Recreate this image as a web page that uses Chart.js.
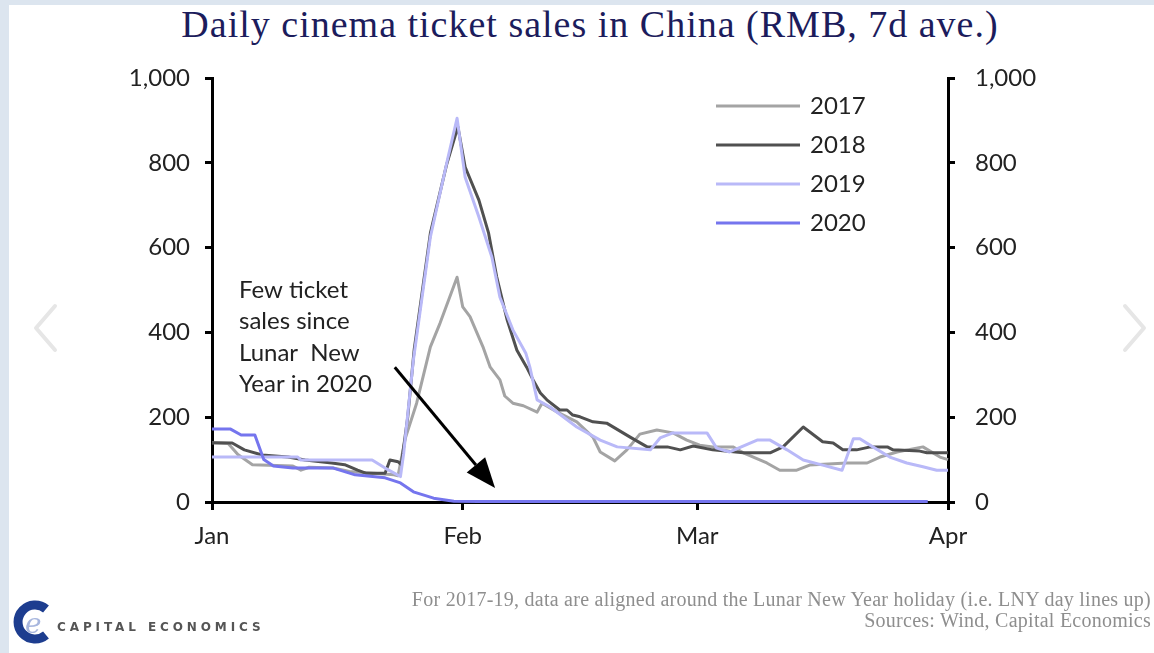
<!DOCTYPE html>
<html>
<head>
<meta charset="utf-8">
<script src="https://cdn.jsdelivr.net/npm/chart.js@4.4.1/dist/chart.umd.min.js"></script>
<style>
  html, body { margin: 0; padding: 0; background: #fff; }
  #page { position: relative; width: 1154px; height: 653px; overflow: hidden; background: #fff; }
  .strip { position: absolute; background: #dce5ef; }
  #title { position: absolute; top: 2px; left: 13px; width: 1154px; text-align: center;
           font: 38px "Liberation Serif", serif; letter-spacing: 1px; color: #1c1c5c; white-space: nowrap; }
  #notes { position: absolute; right: 3px; top: 589px; text-align: right;
           font: 20px "Liberation Serif", serif; letter-spacing: 0.25px; color: #8e8e8e; line-height: 21px; }
  #brand { position: absolute; left: 57px; top: 620px; font: bold 12px "DejaVu Sans", sans-serif;
           letter-spacing: 3.9px; color: #555; }
  canvas { position: absolute; left: 0; top: 0; }
  svg { position: absolute; }
</style>
</head>
<body>
<div id="page">
  <div class="strip" style="left:0;top:0;width:9px;height:653px"></div>
  <div class="strip" style="left:0;top:0;width:1154px;height:5px"></div>
  <div id="title">Daily cinema ticket sales in China (RMB, 7d ave.)</div>
  <canvas id="chart" width="1154" height="653"></canvas>
  <svg style="left:28px;top:300px" width="36" height="56">
    <polyline points="27,6 8,28 27,50" fill="none" stroke="#e6e6e6" stroke-width="4" stroke-linecap="round" stroke-linejoin="round"/>
  </svg>
  <svg style="left:1116px;top:300px" width="36" height="56">
    <polyline points="9,6 28,28 9,50" fill="none" stroke="#e6e6e6" stroke-width="4" stroke-linecap="round" stroke-linejoin="round"/>
  </svg>
  <svg style="left:10px;top:600px" width="44" height="44">
    <path d="M36,9 A17,17 0 1 0 36,35" fill="none" stroke="#1d3d8f" stroke-width="9"/>
    <text x="15" y="33" font-family="DejaVu Serif" font-style="italic" font-size="28" fill="#a7b6de">e</text>
  </svg>
  <div id="brand">CAPITAL ECONOMICS</div>
  <div id="notes">For 2017-19, data are aligned around the Lunar New Year holiday (i.e. LNY day lines up)<br>Sources: Wind, Capital Economics</div>
</div>
<script>
// days counted from 1 Jan (Feb = 31, Mar = 60, Apr = 91)
const monthTicks = [0, 31, 60, 91];
const monthLabels = ['Jan', 'Feb', 'Mar', 'Apr'];
const yearLabels = ['2017', '2018', '2019', '2020'];

const days2017 = [0, 2, 3.2, 5, 10, 11, 12, 15, 17, 20, 22.5, 23, 23.9, 25.3, 27, 28.2, 30.3, 31, 31.9, 33.5,
  34.4, 35.6, 36.2, 37.2, 38.5, 40.2, 40.8, 42.7, 45.1, 47.1, 48, 49.8, 51.3, 52.9, 55, 57, 58.7, 60.3, 61.9, 64.4,
  65.7, 68.6, 70.2, 72.3, 73.9, 78.5, 81, 82.6, 84.7, 87.9, 90, 91];
const sales2017 = [140, 138, 112, 88, 85, 75, 82, 80, 72, 68, 64, 62, 150, 233, 366, 422, 530, 460, 437, 366,
  318, 288, 250, 233, 227, 212, 233, 212, 189, 153, 118, 97, 123, 160, 170, 163, 146, 134, 130, 130,
  116, 92, 75, 75, 87, 92, 92, 106, 118, 130, 106, 100];

const days2018 = [0, 2.5, 4, 6.2, 9.4, 11.5, 14.8, 16.4, 18, 19, 21.4, 22, 23, 23.4, 24.2, 25, 27, 29, 30.4, 31.3,
  33, 34.2, 35.2, 36.5, 37.7, 38.9, 39.7, 40.6, 41.4, 43, 43.9, 44.6, 45.5, 47.1, 48.8, 51.7, 53.8, 56.3, 57.9, 59.5,
  61.9, 65.7, 69, 70.6, 73.1, 75.5, 76.8, 78, 79.7, 81.4, 83.5, 84.2, 87.5, 88.4, 91];
const sales2018 = [140, 139, 123, 111, 106, 99, 92, 88, 75, 68, 68, 99, 95, 88, 200, 360, 634, 795, 885, 790,
  712, 634, 531, 429, 358, 318, 288, 257, 241, 217, 217, 205, 201, 189, 186, 153, 130, 130, 123, 132,
  123, 116, 116, 130, 177, 142, 139, 123, 123, 130, 130, 123, 120, 116, 116];

const days2019 = [0, 10.6, 11, 19.8, 21.4, 23.3, 23.7, 24.9, 27, 29.1, 30.3, 31.3, 33, 34.6, 35.6, 37.2, 38.8, 39.3, 40.2, 41.8,
  45.1, 48, 50.1, 54.2, 55.4, 57, 61.2, 62.4, 64, 67.4, 69, 71.1, 73.1, 75.5, 77.9, 79.3, 80.1, 81.7, 83.8, 85.9,
  87.9, 89.6, 91];
const sales2019 = [106, 106, 99, 99, 80, 60, 115, 335, 625, 806, 905, 766, 672, 578, 483, 406, 351, 318, 241, 224,
  177, 146, 130, 123, 151, 163, 163, 127, 118, 146, 146, 123, 99, 87, 75, 149, 149, 130, 106, 92,
  83, 75, 75];

const days2020 = [0, 2.3, 3.6, 5.3, 6.4, 7.6, 10, 15, 17.7, 21.4, 23.3, 24.9, 27.4, 29.9, 33, 88.5];
const sales2020 = [172, 172, 158, 158, 100, 85, 80, 80, 64, 57, 45, 24, 9, 2, 1, 1];

const noteLines = ['Few ticket', 'sales since', 'Lunar  New', 'Year in 2020'];

const lineColors = ['#a4a4a4', '#505050', '#b9b9f8', '#7575ee'];
const tickFont = { family: 'Lato', size: 24 };
const inkColor = '#222';

function toPoints(days, vals) {
  return days.map((d, i) => ({ x: d, y: vals[i] }));
}
const seriesDays = [days2017, days2018, days2019, days2020];
const seriesVals = [sales2017, sales2018, sales2019, sales2020];

const datasets = yearLabels.map((label, i) => ({
  label: label,
  data: toPoints(seriesDays[i], seriesVals[i]),
  borderColor: lineColors[i],
  borderWidth: 3,
  pointRadius: 0,
  tension: 0,
  borderJoinStyle: 'round',
  clip: 6,
  order: 3 - i,
  yAxisID: 'y'
}));

// legend, note text and arrow drawn inside the plot
const extras = {
  id: 'extras',
  afterDatasetsDraw(chart) {
    const ctx = chart.ctx;
    const a = chart.chartArea;
    const xs = chart.scales.x, ys = chart.scales.y;
    ctx.save();
    ctx.font = '24px Lato';
    ctx.fillStyle = inkColor;
    ctx.textBaseline = 'middle';
    ctx.lineWidth = 3;
    yearLabels.forEach((label, i) => {
      const y = a.top + 28 + i * 39;
      ctx.strokeStyle = lineColors[i];
      ctx.beginPath();
      ctx.moveTo(a.left + 504, y);
      ctx.lineTo(a.left + 588, y);
      ctx.stroke();
      ctx.fillText(label, a.left + 598, y);
    });

    noteLines.forEach((t, i) => {
      ctx.fillText(t, a.left + 27, a.top + 212 + i * 31.5);
    });

    // arrow
    const x0 = xs.getPixelForValue(22.6), y0 = ys.getPixelForValue(318);
    const x1 = xs.getPixelForValue(35), y1 = ys.getPixelForValue(33);
    const ang = Math.atan2(y1 - y0, x1 - x0);
    const headLen = 30, headW = 12;
    const bx = x1 - headLen * Math.cos(ang), by = y1 - headLen * Math.sin(ang);
    ctx.strokeStyle = '#000';
    ctx.fillStyle = '#000';
    ctx.beginPath();
    ctx.moveTo(x0, y0);
    ctx.lineTo(bx, by);
    ctx.stroke();
    ctx.beginPath();
    ctx.moveTo(x1, y1);
    ctx.lineTo(bx + headW * Math.sin(ang), by - headW * Math.cos(ang));
    ctx.lineTo(bx - headW * Math.sin(ang), by + headW * Math.cos(ang));
    ctx.closePath();
    ctx.fill();
    ctx.restore();
  }
};

const yAxis = (pos, w, pad) => ({
  type: 'linear',
  position: pos,
  min: 0,
  max: 1000,
  ticks: {
    stepSize: 200,
    font: tickFont,
    color: inkColor,
    padding: pad,
    callback: v => v.toLocaleString('en-US')
  },
  grid: { drawOnChartArea: false, tickLength: 7, lineWidth: 3, color: '#000' },
  border: { color: '#000', width: 3 },
  afterFit: s => { s.width = w; }
});

new Chart(document.getElementById('chart'), {
  type: 'line',
  data: { datasets: datasets },
  options: {
    responsive: false,
    animation: false,
    layout: { padding: { left: 0, right: 0, top: 78, bottom: 91 } },
    plugins: { legend: { display: false }, tooltip: { enabled: false } },
    scales: {
      x: {
        type: 'linear',
        min: 0,
        max: 91,
        afterBuildTicks: s => { s.ticks = monthTicks.map(v => ({ value: v })); },
        ticks: {
          font: tickFont,
          color: inkColor,
          padding: 12,
          maxRotation: 0,
          autoSkip: false,
          callback: (v, i) => monthLabels[i]
        },
        grid: { drawOnChartArea: false, tickLength: 8, lineWidth: 3, color: '#000' },
        border: { color: '#000', width: 3 },
        afterFit: s => { s.height = 60; }
      },
      y: yAxis('left', 212, 15),
      y2: yAxis('right', 206, 20)
    }
  },
  plugins: [extras]
});
</script>
</body>
</html>
